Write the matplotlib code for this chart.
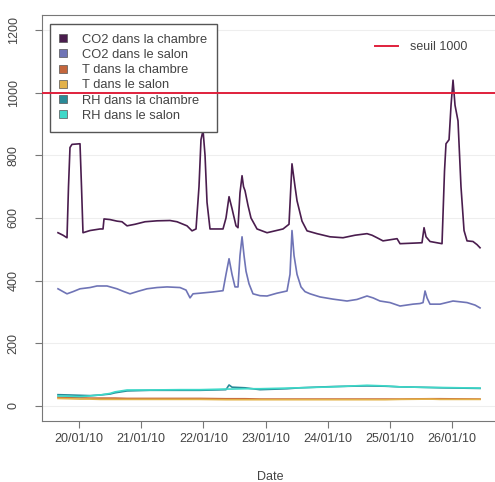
import numpy as np
import pandas as pd
import matplotlib
matplotlib.use("Agg")
import matplotlib.pyplot as plt
import matplotlib.dates as mdates
from matplotlib.lines import Line2D

plt.rcParams['font.family'] = ['Liberation Sans', 'DejaVu Sans']

# time in days since 20/01/10 00:00
t_co2_ch = [-0.338, -0.257, -0.193, -0.169, -0.145, -0.113, 0.016, 0.040, 0.064, 0.177,
            0.338, 0.386, 0.402, 0.498, 0.611, 0.691, 0.772, 0.900, 1.061, 1.254,
            1.463, 1.576, 1.736, 1.817, 1.881, 1.929, 1.961, 1.994, 2.026, 2.058,
            2.106, 2.315, 2.363, 2.412, 2.460, 2.524, 2.556, 2.588, 2.621, 2.645,
            2.669, 2.717, 2.765, 2.862, 3.023, 3.280, 3.376, 3.424, 3.473, 3.505,
            3.585, 3.666, 3.826, 4.035, 4.244, 4.437, 4.630, 4.711, 4.791, 4.887,
            5.113, 5.161, 5.402, 5.514, 5.547, 5.579, 5.643, 5.836, 5.876, 5.900,
            5.949, 5.981, 6.013, 6.045, 6.093, 6.141, 6.190, 6.238, 6.334, 6.399, 6.447]
co2_chambre = [553, 545, 537, 700, 825, 835, 837, 700, 553, 560,
               565, 565, 597, 595, 590, 588, 575, 580, 588, 591,
               592, 588, 575, 559, 565, 700, 850, 880, 800, 650,
               565, 565, 600, 668, 630, 575, 569, 680, 735, 700,
               687, 640, 600, 565, 553, 565, 580, 773, 700, 655,
               590, 559, 550, 540, 537, 545, 550, 545, 537, 527,
               534, 518, 520, 521, 569, 540, 525, 518, 750, 837,
               850, 960, 1040, 960, 910, 700, 560, 527, 525, 515, 505]

t_co2_sa = [-0.338, -0.257, -0.193, -0.096, 0.016, 0.177, 0.289, 0.450, 0.611, 0.723,
            0.820, 0.949, 1.093, 1.254, 1.415, 1.624, 1.720, 1.785, 1.833, 1.945,
            2.154, 2.315, 2.363, 2.412, 2.460, 2.508, 2.556, 2.588, 2.621, 2.653,
            2.685, 2.733, 2.797, 2.910, 3.023, 3.183, 3.344, 3.392, 3.424, 3.457,
            3.505, 3.569, 3.633, 3.714, 3.875, 4.084, 4.309, 4.469, 4.630, 4.727,
            4.839, 5.000, 5.161, 5.370, 5.482, 5.531, 5.563, 5.595, 5.643, 5.804,
            6.013, 6.238, 6.367, 6.447]
co2_salon = [374, 365, 358, 365, 374, 378, 383, 383, 374, 365,
             358, 366, 374, 378, 380, 378, 370, 345, 358, 360,
             364, 368, 420, 470, 420, 380, 380, 480, 540, 480,
             430, 390, 358, 352, 351, 360, 367, 420, 560, 480,
             420, 380, 365, 358, 348, 341, 335, 340, 351, 345,
             335, 330, 319, 325, 327, 330, 367, 345, 325, 325,
             335, 330, 322, 313]

t_th = [-0.338, -0.145, 0.016, 0.177, 0.338, 0.498, 0.579, 0.772, 1.141, 1.624,
        1.945, 2.363, 2.412, 2.460, 2.669, 2.910, 3.344, 3.553, 4.084, 4.630,
        4.920, 5.161, 5.643, 5.804, 6.447]
t_chambre = [28, 27, 26, 25, 25, 25, 25, 24, 24, 24, 24, 23, 23, 23, 23, 22, 22, 22, 22, 22,
             22, 22, 23, 23, 22]
t_salon = [24, 23, 22, 22, 21, 21, 21, 21, 21, 21, 21, 20, 20, 20, 20, 20, 20, 20, 20, 20,
           20, 21, 22, 21, 21]
rh_chambre = [36, 35, 34, 33, 35, 38, 42, 48, 50, 50, 50, 52, 67, 60, 58, 52, 55, 58, 62, 64,
              63, 61, 59, 58, 56]
rh_salon = [32, 31, 30, 32, 35, 40, 45, 51, 51, 52, 52, 54, 54, 54, 55, 55, 57, 58, 61, 66,
            64, 61, 59, 59, 57]

seuil = 1000
labels = ["CO2 dans la chambre", "CO2 dans le salon", "T dans la chambre",
          "T dans le salon", "RH dans la chambre", "RH dans le salon"]
colors = ["#4a1d4e", "#6f74b6", "#c4663c", "#e3b24a", "#2a8a98", "#3ed8c8"]

t0 = pd.Timestamp("2010-01-20")
def to_dates(days):
    return t0 + pd.to_timedelta(np.array(days), unit="D")

fig = plt.figure(figsize=(4.95, 4.82), dpi=100)
ax = fig.add_axes([42/495, 61/482, 456/495, 406/482])

series = [(t_co2_ch, co2_chambre), (t_co2_sa, co2_salon), (t_th, t_chambre),
          (t_th, t_salon), (t_th, rh_chambre), (t_th, rh_salon)]
for (tt, yy), c in zip(series, colors):
    ax.plot(to_dates(tt), yy, color=c, lw=1.2)

# threshold line drawn over the legend
ax.axhline(seuil, color="#e0203c", lw=1.4, zorder=6)

ax.set_ylim(-48, 1248)
ax.set_xlim(t0 + pd.Timedelta(days=-0.595), t0 + pd.Timedelta(days=6.736))
ax.set_yticks([0, 200, 400, 600, 800, 1000, 1200])
ax.xaxis.set_major_locator(mdates.DayLocator())
ax.xaxis.set_major_formatter(mdates.DateFormatter("%d/%m/%y"))
ax.grid(axis="y", color="#eeeeee", lw=0.8)
ax.set_axisbelow(True)

for s in ax.spines.values():
    s.set_color("#777777")
ax.tick_params(colors="#777777", labelcolor="#444444", length=5, labelsize=9)
ax.tick_params(axis="x", pad=4)
ax.tick_params(axis="y", pad=11)
for lab in ax.get_yticklabels():
    lab.set_rotation(90)
    lab.set_va("center")
ax.set_xlabel("Date", fontsize=9, color="#444444", labelpad=18)

handles = [Line2D([], [], marker="s", ls="none", markersize=6, color=c,
                  markeredgecolor="#555555", markeredgewidth=0.5) for c in colors]
leg1 = ax.legend(handles, labels, loc="upper left", bbox_to_anchor=(0.0175, 0.978),
                 borderaxespad=0, borderpad=0.75, fontsize=9.3, labelspacing=0.25,
                 handlelength=0.5, handletextpad=1.25, fancybox=False,
                 edgecolor="#555555", framealpha=1, labelcolor="#444444")
ax.add_artist(leg1)
ax.legend([Line2D([], [], color="#e0203c", lw=1.4)], ["seuil 1000"],
          loc="center left", bbox_to_anchor=(0.719, 0.921), borderaxespad=0,
          frameon=False, fontsize=9, handlelength=1.85, handletextpad=0.95,
          labelcolor="#444444")

fig.savefig("out.png", dpi=100)
